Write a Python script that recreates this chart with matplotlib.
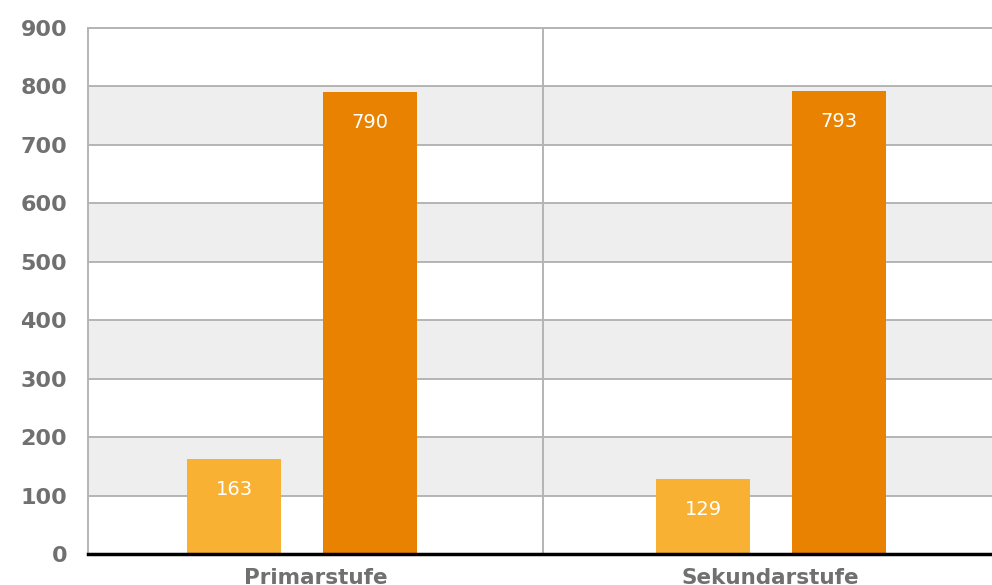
import matplotlib
matplotlib.use("Agg")
import matplotlib.pyplot as plt

categories = ["Primarstufe", "Sekundarstufe"]
series_light = [163, 129]
series_dark = [790, 793]
y_ticks = [0, 100, 200, 300, 400, 500, 600, 700, 800, 900]

# bar placement within each category (category centre = index)
light_offsets = [-0.179, -0.148]
dark_offsets = [0.120, 0.150]
bar_width = 0.207

light_color = "#F8B133"
dark_color = "#E88200"
grid_color = "#B4B4B4"
band_color = "#EEEEEE"
text_grey = "#707070"

fig = plt.figure(figsize=(9.92, 5.85), dpi=100)
ax = fig.add_axes([88 / 992, 1 - 554 / 585, (998 - 88) / 992, (554 - 28) / 585])

ax.set_xlim(-0.5, len(categories) - 0.5)
ax.set_ylim(0, 900)

# alternating horizontal bands
for lo in range(100, 900, 200):
    ax.axhspan(lo, lo + 100, color=band_color, zorder=0, lw=0)

for t in y_ticks[1:]:
    ax.axhline(t, color=grid_color, lw=1.4, zorder=1)

# category separators
for i in range(len(categories) - 1):
    ax.axvline(i + 0.5, color=grid_color, lw=1.4, zorder=1)

for i, cat in enumerate(categories):
    for val, off, col in ((series_light[i], light_offsets[i], light_color),
                          (series_dark[i], dark_offsets[i], dark_color)):
        ax.bar(i + off, val, width=bar_width, color=col, zorder=2, lw=0)
        ax.annotate(f"{val}", xy=(i + off, val), xytext=(0, -22),
                    textcoords="offset points", ha="center", va="center",
                    color="white", fontsize=14, zorder=3)

ax.set_yticks(y_ticks)
ax.set_yticklabels([str(t) for t in y_ticks], fontsize=16, fontweight="bold",
                   color=text_grey)
ax.set_xticks(range(len(categories)))
ax.set_xticklabels(categories, fontsize=15.5, fontweight="bold", color=text_grey)
ax.tick_params(axis="y", length=0, pad=15)
ax.tick_params(axis="x", length=0, pad=10)

for side in ("top", "right"):
    ax.spines[side].set_visible(False)
ax.spines["left"].set_color(grid_color)
ax.spines["left"].set_linewidth(1.4)
ax.spines["bottom"].set_color("black")
ax.spines["bottom"].set_linewidth(2.5)
ax.axhline(900, color=grid_color, lw=1.4, zorder=1, clip_on=False)

fig.savefig("out.png", dpi=100)
